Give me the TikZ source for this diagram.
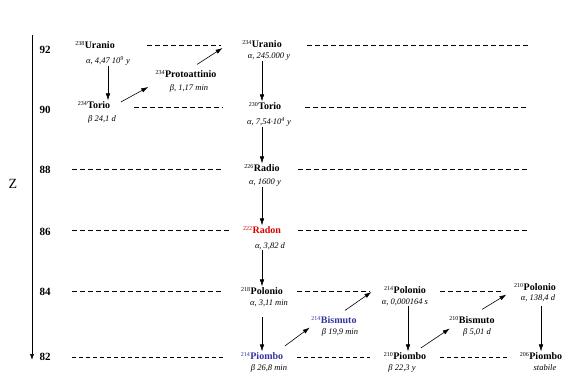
\documentclass[tikz,border=0pt]{standalone}
\usepackage{fontspec}
\setmainfont{Liberation Serif}
\usetikzlibrary{arrows.meta}
\definecolor{rosso}{RGB}{220,0,0}
\definecolor{blu}{RGB}{51,51,160}
\newcommand{\iso}[2]{\textsuperscript{\fontsize{6}{6}\selectfont\mdseries #1}#2}

\begin{document}
\begin{tikzpicture}[x=1pt,y=-1pt,
  nuc/.style={font=\fontsize{10}{11}\selectfont\bfseries, inner sep=0.5pt},
  tau/.style={font=\fontsize{8.5}{10}\selectfont\itshape, inner sep=0.5pt},
  liv/.style={dash pattern=on 5pt off 3pt, line width=0.5pt},
  dec/.style={->, line width=0.6pt},
  >={Latex[length=7pt,width=4.5pt]}]
\useasboundingbox (0,0) rectangle (586,379);
% asse Z
\coordinate (ztop) at (32,35);
\coordinate (zbot) at (32,360);
\draw[->, line width=0.6pt, >={Latex[length=6pt,width=4pt]}] (ztop) -- (zbot);
\node (zlab) at (13,184) {\fontsize{14}{14}\selectfont Z};
\foreach \z/\y in {92/50,90/110,88/170,86/232,84/292,82/357}
  \node[font=\fontsize{11}{12}\selectfont\bfseries] (z\z) at (45,\y) {\z};
% livelli
\draw[liv] (147,45) -- (221,45);
\draw[liv] (307,45) -- (528,45);
\draw[liv] (134,107) -- (223,107);
\draw[liv] (305,107) -- (527,107);
\draw[liv] (72,169) -- (223,169);
\draw[liv] (298,169) -- (528,169);
\draw[liv] (72,230) -- (230,230);
\draw[liv] (298,230) -- (528,230);
\draw[liv] (72,291) -- (223,291);
\draw[liv] (297,291) -- (370,291);
\draw[liv] (440,291) -- (502,291);
\draw[liv, dash pattern=on 4pt off 3pt] (72,357) -- (223,357);
\draw[liv, dash pattern=on 4pt off 3pt] (297,357) -- (370,357);
\draw[liv, dash pattern=on 4pt off 3pt] (440,357) -- (507,357);
% nuclidi
\node[nuc] (u238) at (95,45) {\iso{238}{Uranio}};
\node[tau] (u238t) at (108,61) {α, 4,47 10\textsuperscript{9} y};
\node[nuc] (th234) at (94,105) {\iso{234}{Torio}};
\node[tau] (th234t) at (102,119) {β 24,1 d};
\node[nuc] (pa234) at (186,74) {\iso{234}{Protoattinio}};
\node[tau] (pa234t) at (189,88) {β, 1,17 min};
\node[nuc] (u234) at (262,44) {\iso{234}{Uranio}};
\node[tau] (u234t) at (269,57) {α, 245.000 y};
\node[nuc] (th230) at (265,106) {\iso{230}{Torio}};
\node[tau] (th230t) at (269,122) {α, 7,54·10\textsuperscript{4} y};
\node[nuc] (ra226) at (262,168) {\iso{226}{Radio}};
\node[tau] (ra226t) at (265,183) {α, 1600 y};
\node[nuc, text=rosso] (rn222) at (262,230) {\iso{222}{Radon}};
\node[tau] (rn222t) at (270,246) {α, 3,82 d};
\node[nuc] (po218) at (262,291) {\iso{218}{Polonio}};
\node[tau] (po218t) at (269,303) {α, 3,11 min};
\node[nuc, text=blu] (pb214) at (262,356) {\iso{214}{Piombo}};
\node[tau] (pb214t) at (269,368) {β 26,8 min};
\node[nuc, text=blu] (bi214) at (334,320) {\iso{214}{Bismuto}};
\node[tau] (bi214t) at (340,332) {β 19,9 min};
\node[nuc] (po214) at (405,290) {\iso{214}{Polonio}};
\node[tau] (po214t) at (405,302) {α, 0,000164 s};
\node[nuc] (pb210) at (405,356) {\iso{210}{Piombo}};
\node[tau] (pb210t) at (402,368) {β 22,3 y};
\node[nuc] (bi210) at (472,320) {\iso{210}{Bismuto}};
\node[tau] (bi210t) at (477,332) {β 5,01 d};
\node[nuc] (po210) at (535,287) {\iso{210}{Polonio}};
\node[tau] (po210t) at (538,298) {α, 138,4 d};
\node[nuc] (pb206) at (541,356) {\iso{206}{Piombo}};
\node[tau] (pb206t) at (545,368) {stabile};
% decadimenti
\draw[dec] (u238t.south) -- (u238t.south |- th234.north);
\draw[dec] ([xshift=10pt,yshift=3pt]th234.east) -- ([xshift=-21pt,yshift=1pt]pa234t.west);
\draw[dec] ([xshift=11pt,yshift=5pt]pa234.north) -- ([xshift=-19pt,yshift=-4pt]u234.west);
\draw[dec] (u234 |- u234t.south) -- (u234 |- th230.north);
\draw[dec] (u234 |- th230t.south) -- (ra226.north);
\draw[dec] (ra226 |- ra226t.south) -- (rn222.north);
\draw[dec] (rn222 |- rn222t.south) -- (po218.north);
\draw[dec] ([yshift=-10pt]po218 |- po218t.south) -- (pb214.north);
\draw[dec] ([xshift=1pt,yshift=10pt]pb214.east) -- ([xshift=-1pt,yshift=-3pt]bi214.south west);
\draw[dec] ([xshift=11pt,yshift=5pt]bi214.north) -- ([xshift=-12pt,yshift=-2pt]po214.west);
\draw[dec] ([xshift=3pt]po214 |- po214t.south) -- ([xshift=3pt]pb210.north);
\draw[dec] ([xshift=-6pt,yshift=8pt]pb210.east) -- ([xshift=1pt,yshift=-4pt]bi210.south west);
\draw[dec] ([xshift=10pt,yshift=6pt]bi210.north) -- ([xshift=-7pt,yshift=-3pt]po210.south west);
\draw[dec] ([yshift=-4pt]pb206 |- po210t.south) -- (pb206.north);
\end{tikzpicture}
\end{document}
